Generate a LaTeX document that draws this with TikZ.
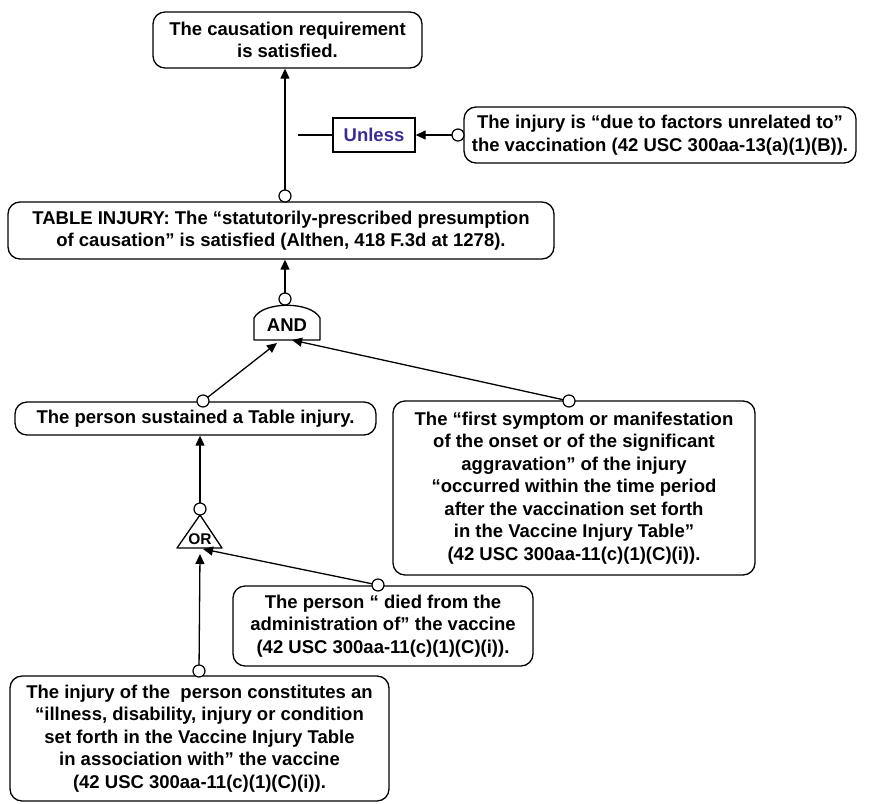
\documentclass[tikz,border=0pt]{standalone}
\usepackage{fontspec}
\setmainfont{Liberation Sans}
\usetikzlibrary{arrows.meta,calc}
\definecolor{unlessblue}{RGB}{58,46,150}
\begin{document}
\begin{tikzpicture}[x=1pt,y=-1pt,
  txt/.style={font=\fontsize{18.5}{22.5}\selectfont\bfseries},
  box/.style={txt, draw, rounded corners=12pt, line width=1.3pt, align=center, inner sep=0pt},
  squarebox/.style={txt, draw, line width=1.3pt, inner sep=0pt, text=unlessblue},
  pin/.style={circle, draw, fill=white, line width=1.2pt, minimum size=12pt, inner sep=0pt},
  wire/.style={line width=1.3pt},
  link/.style={wire, -{Triangle[length=10pt,width=9pt]}},
  gate/.style={line width=1.3pt, fill=white, line join=round}
]
\useasboundingbox (0,0) rectangle (874,803);

% statement boxes
\node[box, minimum width=269pt, minimum height=56pt] (top) at (287.5,40)
  {The causation requirement\\is satisfied.};
\node[squarebox, minimum width=82pt, minimum height=34pt] (unless) at (374,135) {Unless};
\node[box, minimum width=392pt, minimum height=56pt] (due) at (660,135)
  {The injury is “due to factors unrelated to”\\the vaccination (42 USC 300aa-13(a)(1)(B)).};
\node[box, minimum width=546pt, minimum height=57pt] (tab) at (281,230.5)
  {TABLE INJURY: The “statutorily-prescribed presumption\\of causation” is satisfied (Althen, 418 F.3d at 1278).};
\node[box, minimum width=361pt, minimum height=33pt] (person) at (195.5,418.5)
  {The person sustained a Table injury.};
\node[box, minimum width=362pt, minimum height=174pt] (first) at (574,488)
  {The “first symptom or manifestation\\of the onset or of the significant\\aggravation” of the injury\\“occurred within the time period\\after the vaccination set forth\\in the Vaccine Injury Table”\\(42 USC 300aa-11(c)(1)(C)(i)).};
\node[box, minimum width=300pt, minimum height=80pt] (died) at (383,626)
  {The person “ died from the\\administration of” the vaccine\\(42 USC 300aa-11(c)(1)(C)(i)).};
\node[box, minimum width=379pt, minimum height=125pt] (inj) at (199.5,738.5)
  {The injury of the\ \ person constitutes an\\“illness, disability, injury or condition\\set forth in the Vaccine Injury Table\\in association with” the vaccine\\(42 USC 300aa-11(c)(1)(C)(i)).};

% AND gate
\draw[gate] (254,340) -- (254,318) .. controls (263,301) and (311,301) .. (320,318) -- (320,340) -- cycle;
\node[txt] (andlbl) at (287,325) {AND};
\coordinate (andL) at (277,343);
\coordinate (andR) at (292,340);

% OR gate
\draw[gate] (200,515) -- (222,548) -- (177,548) -- cycle;
\node[font=\fontsize{15.5}{18}\selectfont\bfseries] (orlbl) at (200,539) {OR};
\coordinate (orL) at (200,554);
\coordinate (orR) at (203,549);

% free end of the exception stub
\coordinate (ustub) at (298,135);

% connectors
\draw[link] (285,196) -- (285,68.65);
\draw[wire] (ustub) -- (unless.west);
\draw[link] (458,135) -- (unless.east);
\draw[link] (285,299) -- (285,259.65);
\draw[link] (203,401) -- (andL);
\draw[link] (569,401) -- (andR);
\draw[link] (200,509) -- (200,435.65);
\draw[link] (378,585) -- (orR);
\draw[link] (199,671) -- (orL);

% connection pins
\node[pin] (ptab) at (285,196) {};
\node[pin] (pdue) at (458,135) {};
\node[pin] (pand) at (285,299) {};
\node[pin] (pperson) at (203,401) {};
\node[pin] (pfirst) at (569,401) {};
\node[pin] (por) at (200,509) {};
\node[pin] (pdied) at (378,585) {};
\node[pin] (pinj) at (199,671) {};
\end{tikzpicture}
\end{document}
